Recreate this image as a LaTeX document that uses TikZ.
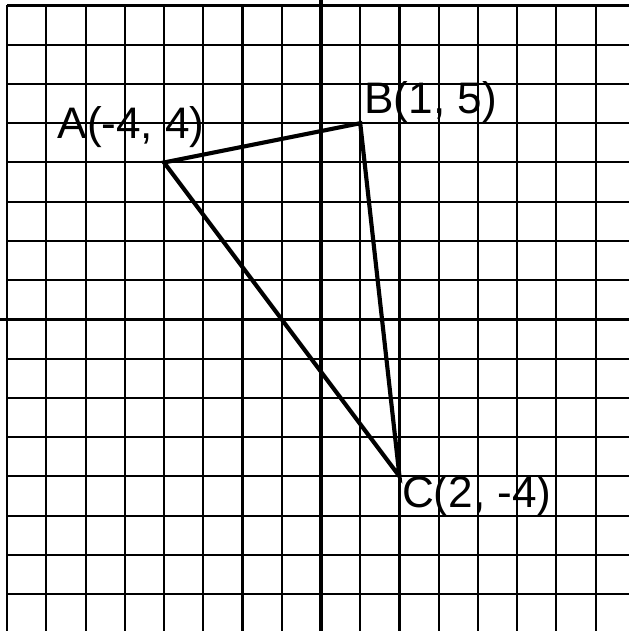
\documentclass[tikz,border=0pt]{standalone}
\usepackage{fontspec}
\setmainfont{Liberation Sans}
\usetikzlibrary{calc}
\tikzset{
  gridline/.style={line width=1.5pt, color=black},
  axisline/.style={line width=2.3pt, color=black},
  triside/.style={line width=3pt, color=black, line join=miter},
  ptlabel/.style={inner sep=0pt, anchor=base west, text=black,
                  font=\fontsize{32}{38}\selectfont}}
\begin{document}
\begin{tikzpicture}
    \useasboundingbox (-8.18,-7.94) rectangle (7.85,8.14);
    \fill[white] (-8.18,-7.94) rectangle (7.85,8.14);
    \draw[gridline] (-8,-7.94) grid (7.85,8);
    \draw[axisline] (-8.18,0) -- (7.85,0);
    \draw[axisline] (0,-7.94) -- (0,8.14);
    \coordinate (A) at (-4,4);
    \coordinate (B) at (1,5);
    \coordinate (C) at (2,-4);
    \draw[triside] (A) -- (B) -- (C) -- cycle;
    \node[ptlabel] (lA) at ($(A)+(-2.72,0.62)$) {A(-4, 4)};
    \node[ptlabel] (lB) at ($(B)+(0.10,0.26)$)  {B(1, 5)};
    \node[ptlabel] (lC) at ($(C)+(0.06,-0.80)$) {C(2, -4)};
  \end{tikzpicture}
\end{document}
